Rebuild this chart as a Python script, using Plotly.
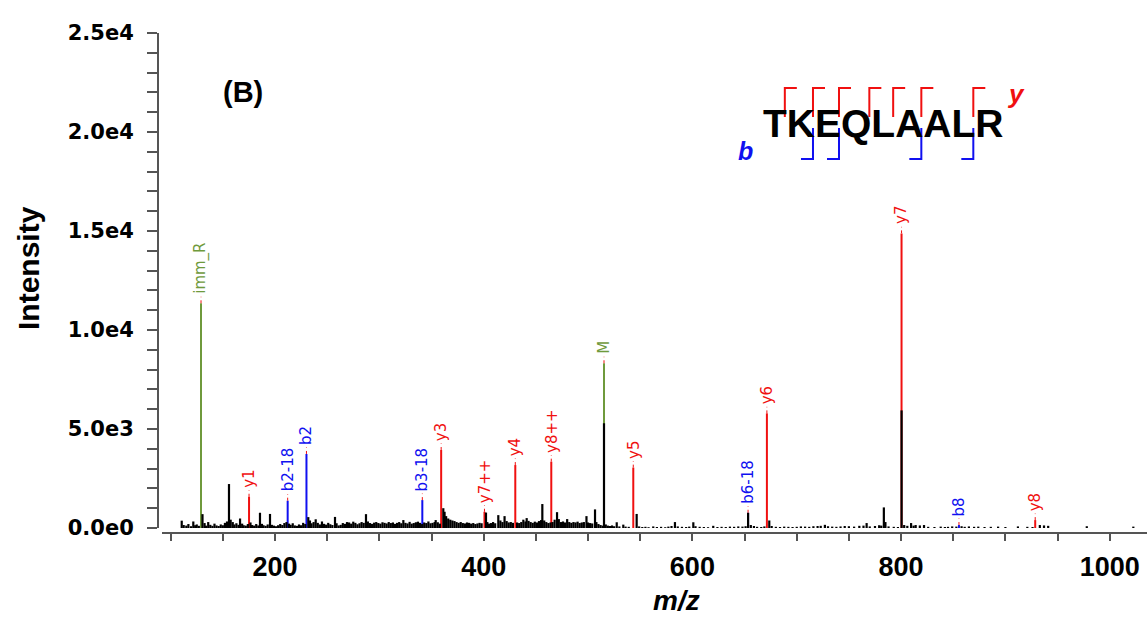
import plotly.graph_objects as go

# ---- annotated fragment ions: m/z, intensity, label, ion type ----
ion_mz = [129.10, 175.12, 212.14, 230.15, 341.18, 359.24, 400.74, 430.28,
          464.78, 515.31, 543.36, 653.36, 671.42, 800.46, 855.49, 928.56]
ion_int = [11350, 1580, 1380, 3740, 1410, 3940, 820, 3180,
           3350, 8320, 3050, 770, 5790, 14880, 150, 400]
ion_label = ["imm_R", "y1", "b2-18", "b2", "b3-18", "y3", "y7++", "y4",
             "y8++", "M", "y5", "b6-18", "y6", "y7", "b8", "y8"]
ion_type = ["other", "y", "b", "b", "b", "y", "y", "y",
            "y", "other", "y", "b", "y", "y", "b", "y"]

# ---- unassigned (raw) peaks ----
noise_mz = [
    110.6, 112.5, 115.0, 117.0, 119.5, 121.7, 123.5, 125.0, 127.0, 130.5,
    132.5, 134.0, 136.0, 138.0, 140.0, 142.0, 144.0, 146.0, 148.0, 150.0,
    152.0, 154.0, 155.9, 157.5, 159.5, 161.0, 163.0, 165.0, 166.5, 168.5,
    170.0, 172.0, 174.0, 176.5, 178.0, 180.0, 182.0, 184.0, 185.6, 187.5,
    189.0, 191.0, 193.0, 195.2, 197.0, 199.0, 201.0, 203.0, 205.0, 207.0,
    209.0, 211.0, 213.5, 215.0, 217.0, 219.0, 221.0, 223.0, 225.0, 227.0,
    229.0, 231.9, 233.5, 235.0, 237.0, 239.0, 241.0, 243.0, 245.0, 247.0,
    249.0, 251.0, 253.0, 255.0, 257.5, 259.0, 261.0, 263.0, 265.0, 267.0,
    269.0, 271.0, 273.0, 275.0, 277.0, 279.0, 281.0, 283.0, 285.0, 287.2,
    289.0, 291.0, 293.0, 295.0, 297.0, 299.0, 301.0, 303.0, 305.0, 307.0,
    309.0, 311.0, 313.0, 315.0, 317.0, 319.0, 321.0, 323.0, 325.0, 327.0,
    329.0, 331.0, 333.0, 335.0, 337.0, 339.0, 341.0, 343.0, 345.0, 347.0,
    349.0, 351.0, 353.0, 354.0, 356.0, 358.0, 361.3, 362.5, 364.0, 366.0,
    368.0, 370.0, 372.0, 374.0, 376.0, 378.0, 380.0, 382.0, 384.0, 386.0,
    388.0, 390.0, 392.0, 394.0, 396.0, 398.0, 402.2, 403.5, 405.0, 407.0,
    409.0, 411.0, 414.0, 416.0, 418.0, 420.0, 422.0, 424.0, 426.0, 428.0,
    432.0, 434.0, 436.0, 438.0, 440.0, 441.2, 443.0, 445.0, 447.0, 449.0,
    451.0, 453.0, 455.0, 456.2, 458.0, 460.0, 462.0, 464.0, 466.0, 468.0,
    470.3, 472.0, 474.0, 476.0, 478.0, 480.0, 482.0, 484.0, 486.0, 488.0,
    490.0, 492.0, 494.0, 496.0, 498.5, 500.0, 502.0, 504.0, 506.7, 508.0,
    510.0, 512.0, 514.0, 515.3, 517.0, 519.0, 521.0, 523.0, 525.0, 527.5,
    530.0, 533.8, 536.0, 539.0, 546.6, 549.0, 552.0, 555.0, 558.0, 562.5,
    566.0, 570.0, 574.0, 577.0, 580.0, 583.3, 586.0, 590.0, 594.0, 597.0,
    600.9, 603.0, 607.0, 611.0, 615.0, 620.0, 624.0, 628.0, 632.0, 636.0,
    640.0, 644.0, 648.0, 651.0, 653.4, 656.0, 659.0, 662.0, 666.0, 669.0,
    673.7, 676.0, 680.0, 684.0, 688.0, 692.0, 696.0, 700.0, 704.0, 708.0,
    712.0, 716.0, 720.0, 723.0, 727.0, 730.0, 734.0, 738.0, 742.0, 746.0,
    750.0, 755.0, 760.0, 764.0, 767.0, 770.0, 775.0, 779.0, 781.0, 783.5,
    785.0, 788.0, 793.0, 797.0, 800.5, 803.0, 806.0, 809.6, 812.0, 814.0,
    818.0, 822.0, 826.0, 832.0, 838.0, 842.0, 845.0, 849.0, 853.0, 858.0,
    861.0, 865.0, 870.0, 874.0, 880.0, 886.0, 893.0, 900.0, 912.0, 921.0,
    926.0, 933.0, 937.0, 941.0, 978.0, 1022.6,
]
noise_int = [
    370, 150, 120, 200, 90, 330, 140, 180, 110, 700,
    250, 120, 300, 160, 110, 220, 130, 100, 180, 140,
    260, 330, 2220, 420, 300, 180, 240, 160, 480, 220,
    140, 120, 200, 280, 150, 120, 200, 130, 770, 210,
    140, 110, 180, 710, 160, 120, 90, 140, 200, 150,
    250, 300, 220, 160, 240, 130, 110, 180, 140, 260,
    200, 550, 380, 240, 300, 440, 260, 180, 330, 210,
    170, 260, 190, 150, 560, 240, 130, 160, 250, 210,
    300, 280, 220, 320, 260, 190, 240, 300, 260, 700,
    330, 250, 210, 270, 300, 250, 220, 290, 260, 230,
    300, 250, 280, 210, 260, 300, 240, 400, 260, 230,
    310, 220, 250, 290, 320, 260, 200, 280, 250, 330,
    240, 260, 300, 400, 290, 220, 1000, 820, 600, 480,
    420, 380, 350, 300, 260, 300, 250, 230, 280, 260,
    220, 250, 200, 230, 260, 240, 780, 300, 220, 250,
    300, 240, 650, 380, 300, 600, 350, 280, 300, 260,
    280, 250, 300, 420, 330, 500, 360, 300, 260, 320,
    280, 350, 400, 1210, 380, 300, 250, 280, 300, 420,
    800, 450, 300, 330, 280, 450, 300, 260, 300, 280,
    320, 250, 280, 300, 600, 280, 250, 230, 940, 300,
    200, 150, 120, 5290, 180, 120, 100, 130, 90, 290,
    80, 170, 70, 60, 710, 80, 50, 60, 40, 80,
    50, 60, 40, 70, 100, 300, 80, 60, 50, 70,
    290, 90, 60, 50, 40, 110, 50, 60, 50, 70,
    60, 80, 70, 90, 770, 150, 100, 60, 50, 80,
    380, 100, 60, 50, 70, 60, 50, 60, 80, 70,
    60, 90, 100, 110, 160, 90, 70, 60, 80, 100,
    90, 70, 110, 120, 250, 80, 100, 140, 120, 1040,
    300, 80, 60, 50, 5940, 150, 110, 250, 120, 150,
    130, 150, 60, 50, 70, 50, 60, 80, 70, 90,
    60, 80, 60, 70, 50, 60, 70, 50, 80, 60,
    50, 150, 130, 110, 90, 70,
]

# ---- peptide sequence and observed fragment series ----
sequence = "TKEQLAALR"
y_observed = [1, 3, 4, 5, 6, 7, 8]
b_observed = [2, 3, 6, 8]

y_tick_vals = [0, 5000, 10000, 15000, 20000, 25000]
y_tick_text = ["0.0e0", "5.0e3", "1.0e4", "1.5e4", "2.0e4", "2.5e4"]

COLORS = {"y": "#f01010", "b": "#1010f0", "other": "#6f9a3c"}
W, H = 1147, 617
ML, MR, MT, MB = 158, 0, 33, 84
PW, PH = W - ML - MR, H - MT - MB
BOLD_FONT = "Liberation Sans"


def px(xp):
    return (xp - ML) / PW


def py(yp):
    return (H - MB - yp) / PH


def sticks(xs, ys):
    sx, sy = [], []
    for x, y in zip(xs, ys):
        sx += [x, x, None]
        sy += [0, y, None]
    return sx, sy


def paper_text(xp, yp, text, size, color="black", family=BOLD_FONT, angle=0):
    return dict(x=px(xp), y=py(yp), xref="paper", yref="paper", text=text,
                showarrow=False, xanchor="center", yanchor="middle",
                textangle=angle,
                font=dict(family=family, size=size, color=color))


fig = go.Figure()

# coloured assigned peaks
for t in ["other", "b", "y"]:
    xs = [m for m, tt in zip(ion_mz, ion_type) if tt == t]
    ys = [v for v, tt in zip(ion_int, ion_type) if tt == t]
    sx, sy = sticks(xs, ys)
    fig.add_trace(go.Scatter(x=sx, y=sy, mode="lines", hoverinfo="skip",
                             line=dict(color=COLORS[t], width=2)))

# raw spectrum drawn over the assigned sticks
sx, sy = sticks(noise_mz, noise_int)
fig.add_trace(go.Scatter(x=sx, y=sy, mode="lines", hoverinfo="skip",
                         line=dict(color="black", width=2.2)))

# dotted leaders between peak apex and its label
lx, ly = [], []
for m, v in zip(ion_mz, ion_int):
    lx += [m, m, None]
    ly += [v, v + 330, None]
fig.add_trace(go.Scatter(x=lx, y=ly, mode="lines", hoverinfo="skip",
                         line=dict(color="#f01010", width=1, dash="dot")))

annotations = []
for m, v, lab, t in zip(ion_mz, ion_int, ion_label, ion_type):
    annotations.append(dict(
        x=m, y=v, xref="x", yref="y", text=lab, showarrow=False,
        textangle=-90, xanchor="center", yanchor="bottom", yshift=7,
        font=dict(family="DejaVu Sans", size=15, color=COLORS[t])))

# peptide sequence with fragment brackets
seq_size = 39
adv = {"T": 0.611, "K": 0.722, "E": 0.667, "Q": 0.778, "L": 0.611,
       "A": 0.722, "R": 0.722}
seq_left = 761
annotations.append(dict(
    x=px(seq_left), y=py(123.5), xref="paper", yref="paper",
    text="<b>%s</b>" % sequence, showarrow=False, xanchor="left",
    yanchor="middle",
    font=dict(family="Liberation Sans", size=seq_size, color="black")))

bounds = []
acc = seq_left
for ch in sequence[:-1]:
    acc += adv[ch] * seq_size
    bounds.append(acc)

shapes = []
n = len(sequence)
for k in y_observed:
    xb = bounds[n - k - 1]
    shapes.append(dict(type="path", xref="paper", yref="paper",
                       path="M %f %f L %f %f L %f %f" % (
                           px(xb), py(117), px(xb), py(88), px(xb + 12), py(88)),
                       line=dict(color="#f01010", width=2)))
for k in b_observed:
    xb = bounds[k - 1]
    shapes.append(dict(type="path", xref="paper", yref="paper",
                       path="M %f %f L %f %f L %f %f" % (
                           px(xb), py(128), px(xb), py(159), px(xb - 12), py(159)),
                       line=dict(color="#1010f0", width=2)))

annotations.append(paper_text(1016, 94, "<b><i>y</i></b>", 26, "#f01010"))
annotations.append(paper_text(745, 151, "<b><i>b</i></b>", 25, "#1010f0"))
annotations.append(paper_text(243, 92, "<b>(B)</b>", 29))
annotations.append(paper_text(28, 268, "<b>Intensity</b>", 30, angle=-90))
annotations.append(paper_text(676, 600, "<b><i>m/z</i></b>", 28))

axis_col = "#555555"
fig.update_layout(
    width=W, height=H, autosize=False,
    margin=dict(l=ML, r=MR, t=MT, b=MB, pad=0),
    paper_bgcolor="white", plot_bgcolor="white",
    showlegend=False,
    annotations=annotations, shapes=shapes,
    xaxis=dict(
        domain=[4 / PW, 1], anchor="free", position=0,
        range=[91.7, 1035.7], showgrid=False, zeroline=False,
        showline=True, linecolor=axis_col, linewidth=2,
        tickmode="linear", tick0=0, dtick=200, tickformat="d",
        ticks="outside", ticklen=7, tickwidth=1.5, tickcolor=axis_col,
        minor=dict(dtick=50, tick0=0, ticks="outside", ticklen=7,
                   tickwidth=1.5, tickcolor=axis_col),
        tickfont=dict(family=BOLD_FONT, size=27, color="black", weight="bold"),
        ticklabelstandoff=3,
    ),
    yaxis=dict(
        domain=[5 / PH, 1], anchor="free", position=0,
        range=[0, 25000], showgrid=False, zeroline=False,
        showline=True, linecolor=axis_col, linewidth=2,
        tickmode="array", tickvals=y_tick_vals, ticktext=y_tick_text,
        ticks="outside", ticklen=10, tickwidth=1.5, tickcolor=axis_col,
        minor=dict(dtick=1000, tick0=0, ticks="outside", ticklen=10,
                   tickwidth=1.5, tickcolor=axis_col),
        tickfont=dict(family="DejaVu Sans", size=21, color="black", weight="bold"),
        ticklabelstandoff=9,
    ),
)

fig.write_html("out.html")
